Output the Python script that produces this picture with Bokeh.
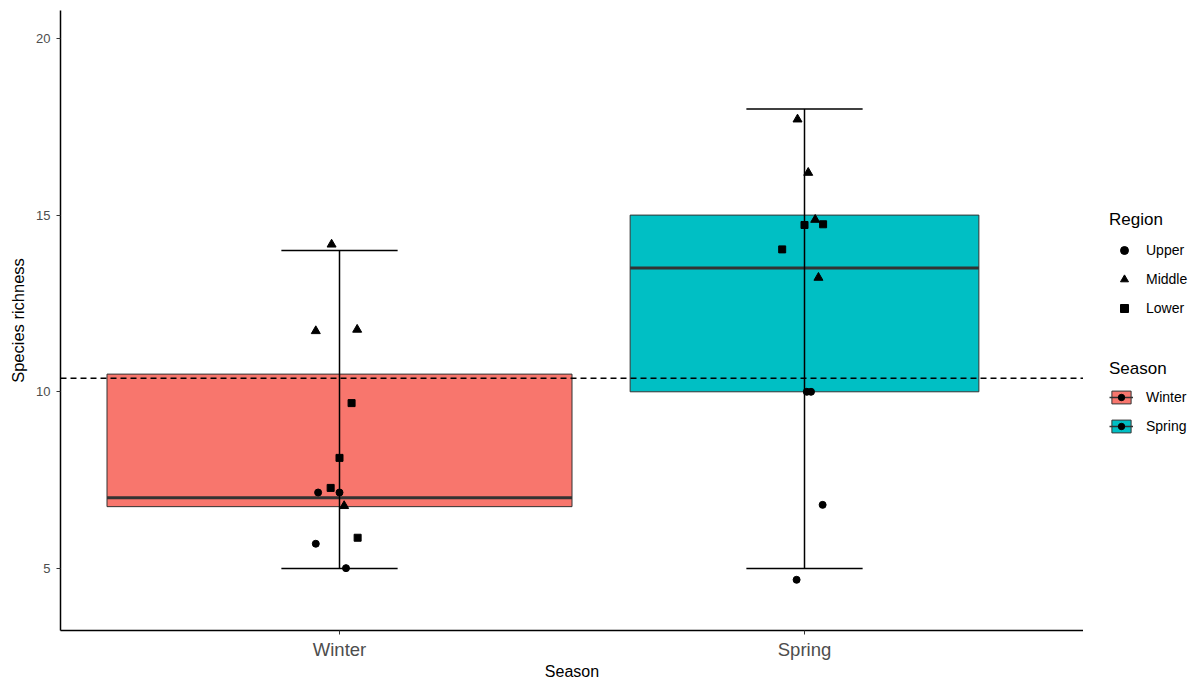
from bokeh.plotting import figure
from bokeh.layouts import row
from bokeh.models import Range1d, FixedTicker, Span, Legend, LegendItem, ColumnDataSource
from bokeh.embed import file_html
from bokeh.resources import INLINE

# ---------------- data ----------------
seasons = ["Winter", "Spring"]
box_q1 = [6.75, 10.0]
box_median = [7.0, 13.5]
box_q3 = [10.5, 15.0]
whisker_low = [5.0, 5.0]
whisker_high = [14.0, 18.0]
reference_value = 10.38

regions = ["Upper", "Middle", "Lower"]

upper_season = ["Winter", "Winter", "Winter", "Winter", "Spring", "Spring", "Spring", "Spring"]
upper_jitter = [-0.046, 0.0, -0.051, 0.014, 0.014, 0.005, 0.039, -0.017]
upper_richness = [7.15, 7.15, 5.70, 5.01, 10.0, 10.0, 6.80, 4.68]

middle_season = ["Winter", "Winter", "Winter", "Winter", "Spring", "Spring", "Spring", "Spring"]
middle_jitter = [-0.017, -0.051, 0.038, 0.010, -0.015, 0.008, 0.023, 0.030]
middle_richness = [14.17, 11.72, 11.76, 6.77, 17.71, 16.20, 14.87, 13.23]

lower_season = ["Winter", "Winter", "Winter", "Winter", "Spring", "Spring", "Spring"]
lower_jitter = [0.026, 0.0, -0.019, 0.039, 0.0, 0.040, -0.048]
lower_richness = [9.68, 8.13, 7.28, 5.87, 14.72, 14.74, 14.03]

# ---------------- styles ----------------
season_colors = ["#F8766D", "#00BFC4"]
box_widths = [1.0, 0.75]
cap_width = 0.25
FONT = "Liberation Sans"
H = 672
W_MAIN = 1083
W_TOTAL = 1189

pos = {s: i + 1 for i, s in enumerate(seasons)}
xs = [pos[s] for s in seasons]

p = figure(
    width=W_MAIN, height=H,
    frame_width=1023, frame_height=620,
    min_border_left=60, min_border_right=0, min_border_top=10, min_border_bottom=42,
    x_range=Range1d(0.4, 2.6), y_range=Range1d(3.245, 20.79),
    output_backend="svg", toolbar_location=None,
)
p.outline_line_color = None
p.xgrid.visible = False
p.ygrid.visible = False

# boxes
box_src = ColumnDataSource(dict(x=xs, w=box_widths, q1=box_q1, q3=box_q3, color=season_colors))
p.vbar(x="x", width="w", bottom="q1", top="q3", fill_color="color",
       line_color="#333333", line_width=1, source=box_src)

# medians
med_x0 = [x - w / 2 for x, w in zip(xs, box_widths)]
med_x1 = [x + w / 2 for x, w in zip(xs, box_widths)]
p.segment(x0=med_x0, x1=med_x1, y0=box_median, y1=box_median,
          line_color="#333333", line_width=3)

# error bars
p.segment(x0=xs, x1=xs, y0=whisker_low, y1=whisker_high, line_color="black", line_width=1.5)
cap_x0 = [x - cap_width / 2 for x in xs]
cap_x1 = [x + cap_width / 2 for x in xs]
p.segment(x0=cap_x0, x1=cap_x1, y0=whisker_low, y1=whisker_low, line_color="black", line_width=1.5)
p.segment(x0=cap_x0, x1=cap_x1, y0=whisker_high, y1=whisker_high, line_color="black", line_width=1.5)

# reference dashed line
p.add_layout(Span(location=reference_value, dimension="width", line_color="black",
                  line_width=1.5, line_dash="6 4"))

# points
def pts(season_list, jitter, vals):
    return dict(x=[pos[s] + j for s, j in zip(season_list, jitter)], y=vals)

p.scatter(source=ColumnDataSource(pts(upper_season, upper_jitter, upper_richness)),
          x="x", y="y", marker="circle", size=7, color="black")
p.scatter(source=ColumnDataSource(pts(middle_season, middle_jitter, middle_richness)),
          x="x", y="y", marker="triangle", size=9, color="black")
p.scatter(source=ColumnDataSource(pts(lower_season, lower_jitter, lower_richness)),
          x="x", y="y", marker="square", size=7, color="black")

# axes
for ax in (p.xaxis[0], p.yaxis[0]):
    ax.axis_line_color = "black"
    ax.axis_line_width = 1.5
    ax.major_tick_line_color = "#333333"
    ax.major_tick_out = 4
    ax.major_tick_in = 0
    ax.minor_tick_line_color = None
    ax.major_label_text_color = "#4d4d4d"
    ax.major_label_text_font = FONT
    ax.axis_label_text_font = FONT
    ax.axis_label_text_font_style = "normal"
    ax.axis_label_text_color = "black"
    ax.axis_label_text_font_size = "16px"

p.xaxis.ticker = FixedTicker(ticks=xs)
p.xaxis.major_label_overrides = {x: s for x, s in zip(xs, seasons)}
p.xaxis.major_label_text_font_size = "18.5px"
p.xaxis.axis_label = "Season"
p.xaxis.major_label_standoff = 4
p.xaxis.axis_label_standoff = 0

p.yaxis.ticker = FixedTicker(ticks=[5, 10, 15, 20])
p.yaxis.major_label_text_font_size = "13px"
p.yaxis.axis_label = "Species richness"
p.yaxis.axis_label_text_font_size = "16.5px"
p.yaxis.major_label_standoff = 6
p.yaxis.axis_label_standoff = 6

# ---------------- legend panel ----------------
lf = figure(width=W_TOTAL - W_MAIN, height=H, min_border=0,
            x_range=Range1d(0, 1), y_range=Range1d(0, 1),
            x_axis_type=None, y_axis_type=None,
            output_backend="svg", toolbar_location=None)
lf.outline_line_color = None
lf.xgrid.visible = False
lf.ygrid.visible = False

# key glyphs (placed outside the visible range; only their legend icons show)
OFF = [5]
k_upper = lf.scatter(x=OFF, y=OFF, marker="circle", size=7, color="black")
k_middle = lf.scatter(x=OFF, y=OFF, marker="triangle", size=9, color="black")
k_lower = lf.scatter(x=OFF, y=OFF, marker="square", size=7, color="black")

season_keys = []
for c in season_colors:
    kb = lf.vbar(x=OFF, width=0.5, top=OFF, bottom=OFF, fill_color=c,
                 line_color="#333333", line_width=1)
    kl = lf.line(x=OFF, y=OFF, line_color="#333333", line_width=1.5)
    kd = lf.scatter(x=OFF, y=OFF, marker="circle", size=7, color="black")
    season_keys.append([kb, kl, kd])

def style_legend(lg):
    lg.title_text_font = FONT
    lg.title_text_font_size = "17px"
    lg.title_text_font_style = "normal"
    lg.title_text_color = "black"
    lg.label_text_font = FONT
    lg.label_text_font_size = "14px"
    lg.label_text_color = "black"
    lg.border_line_color = None
    lg.background_fill_alpha = 0
    lg.padding = 0
    lg.margin = 0
    lg.title_standoff = 10

leg_region = Legend(items=[
    LegendItem(label=regions[0], renderers=[k_upper]),
    LegendItem(label=regions[1], renderers=[k_middle]),
    LegendItem(label=regions[2], renderers=[k_lower]),
], title="Region", location=(26, 302))
style_legend(leg_region)
leg_region.glyph_width = 30
leg_region.glyph_height = 20
leg_region.label_standoff = 7
leg_region.spacing = 9
lf.add_layout(leg_region)

leg_season = Legend(items=[
    LegendItem(label=seasons[i], renderers=season_keys[i]) for i in range(len(seasons))
], title="Season", location=(26, 186))
style_legend(leg_season)
leg_season.glyph_width = 24
leg_season.glyph_height = 16
leg_season.label_standoff = 13
leg_season.spacing = 13
lf.add_layout(leg_season)

layout = row(p, lf)
open("out.html", "w").write(file_html(layout, INLINE))
